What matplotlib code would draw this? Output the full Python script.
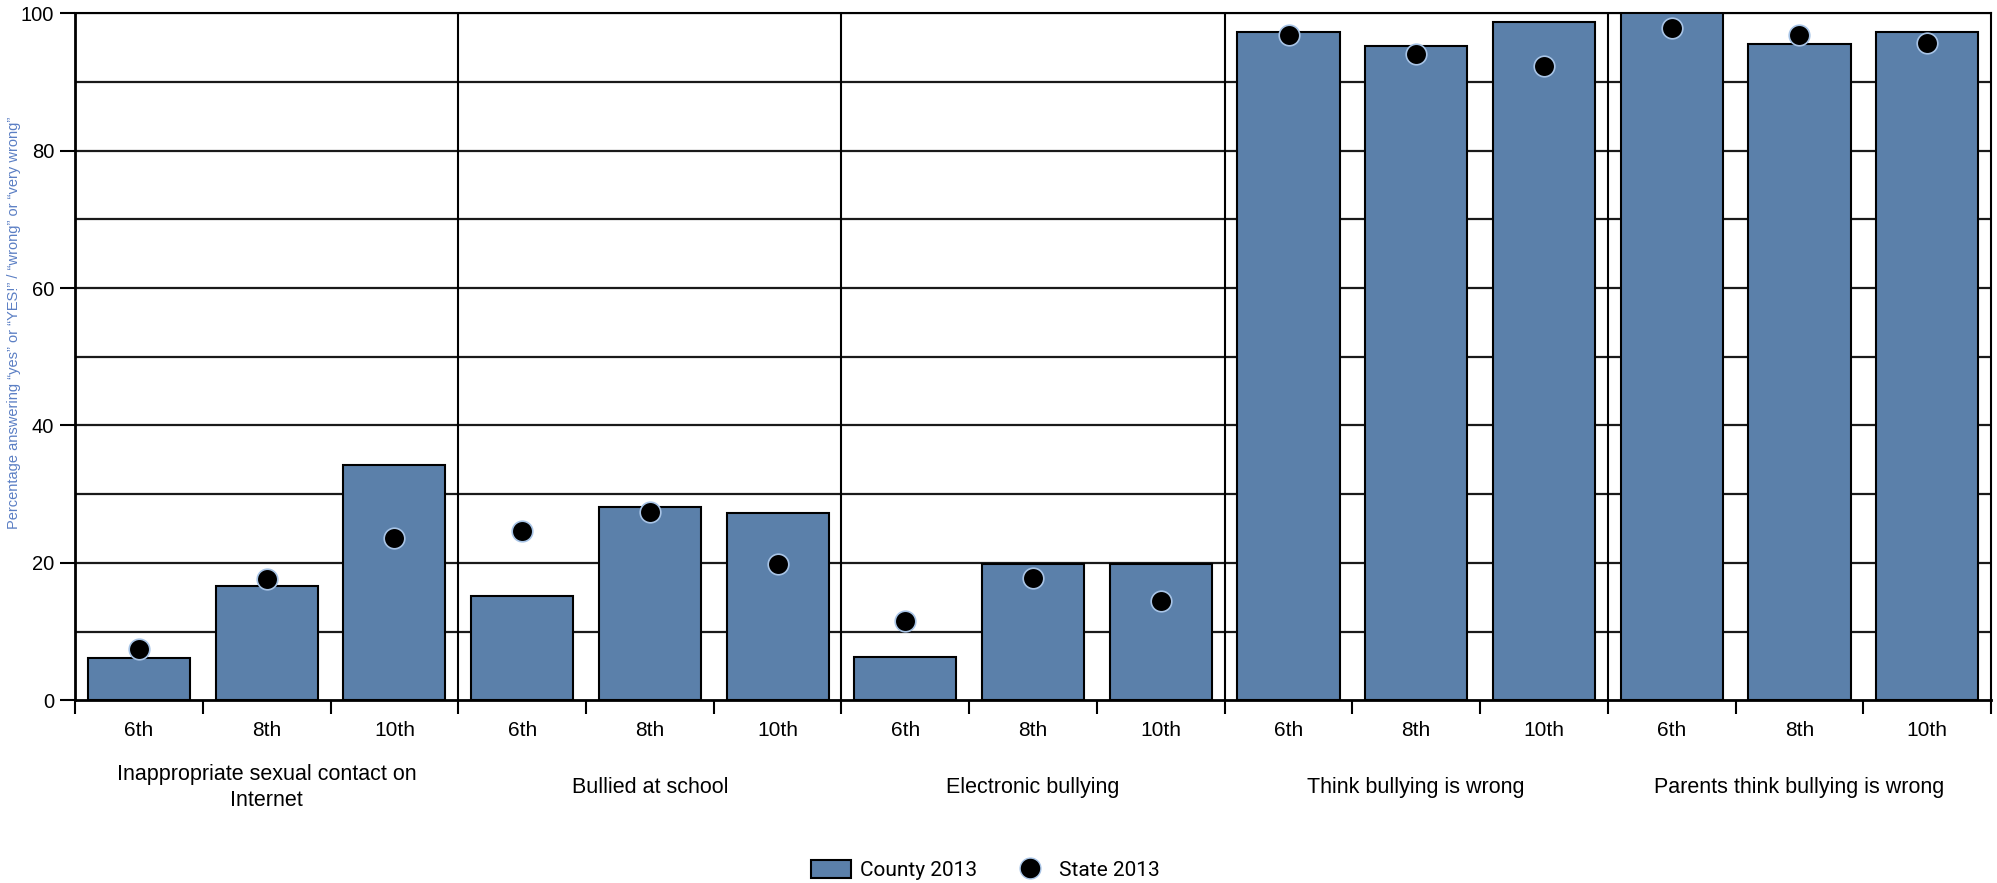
import matplotlib.pyplot as plt
import numpy as np
from matplotlib.patches import Patch
from matplotlib.lines import Line2D
from matplotlib.transforms import blended_transform_factory

# valores
groups = ["Inappropriate sexual contact on\nInternet", "Bullied at school",
          "Electronic bullying", "Think bullying is wrong",
          "Parents think bullying is wrong"]
grades = ["6th", "8th", "10th"]
county_2013 = [6.2, 16.6, 34.3,
               15.1, 28.1, 27.3,
               6.3, 19.9, 19.9,
               97.3, 95.3, 98.7,
               100.0, 95.5, 97.2]
state_2013 = [7.4, 17.6, 23.6,
              24.6, 27.4, 19.8,
              11.5, 17.8, 14.5,
              96.8, 94.1, 92.3,
              97.8, 96.8, 95.7]

bar_color = '#5b80aa'

fig = plt.figure(figsize=(19.97, 8.83), dpi=100)
ax = fig.add_axes([0.0376, 0.207, 0.9594, 0.778])

n = len(county_2013)
x = np.arange(n) + 0.5

ax.bar(x, county_2013, width=0.8, color=bar_color, edgecolor='black', linewidth=1.5, zorder=3)
ax.scatter(x, state_2013, s=220, color='black', edgecolor='#a8c4e6', linewidth=1.2, zorder=4)

# grade horizontal
for yv in range(10, 101, 10):
    ax.axhline(yv, color='#1a1a1a', linewidth=1.6, zorder=1)
# separadores dos grupos
for xv in range(3, n, 3):
    ax.axvline(xv, color='black', linewidth=1.5, zorder=2)

ax.set_xlim(0, n)
ax.set_ylim(0, 100)
for s in ['left', 'bottom']:
    ax.spines[s].set_linewidth(2)
for s in ['right', 'top']:
    ax.spines[s].set_linewidth(1.5)

ax.set_yticks(range(0, 101, 20))
ax.tick_params(axis='y', length=11, width=1.5, pad=4)
for lbl in ax.get_yticklabels():
    lbl.set_fontfamily('Liberation Sans')
    lbl.set_fontsize(14.5)

ax.set_xticks(x)
ax.set_xticklabels(grades * len(groups), fontsize=15, family='Liberation Sans')
ax.set_xticks(np.arange(0, n + 1), minor=True)
ax.tick_params(axis='x', which='major', length=0, pad=15)
ax.tick_params(axis='x', which='minor', length=10, width=1.5)

trans = blended_transform_factory(ax.transData, ax.transAxes)
for i, g in enumerate(groups):
    ax.text(3 * i + 1.5, -0.127, g, transform=trans, ha='center', va='center',
            fontsize=15.5, family='Liberation Sans', linespacing=1.3)

ax.set_ylabel('Percentage answering \u201cyes\u201d or \u201cYES!\u201d / \u201cwrong\u201d or \u201cvery wrong\u201d',
              family='Liberation Sans', fontsize=10.5, color='#5b7fc4')
ax.yaxis.set_label_coords(-0.028, 0.55)

handles = [Patch(facecolor=bar_color, edgecolor='black', linewidth=1.5, label='County 2013'),
           Line2D([], [], marker='o', linestyle='none', markersize=15, markerfacecolor='black',
                  markeredgecolor='#a8c4e6', label='State 2013')]
fig.legend(handles=handles, loc='lower center', bbox_to_anchor=(0.4935, -0.018), ncol=2,
           frameon=False, prop={'family': 'Roboto', 'size': 15},
           handlelength=1.9, handleheight=0.9, columnspacing=1.6, handletextpad=0.45)

fig.savefig('out.png', dpi=100)
